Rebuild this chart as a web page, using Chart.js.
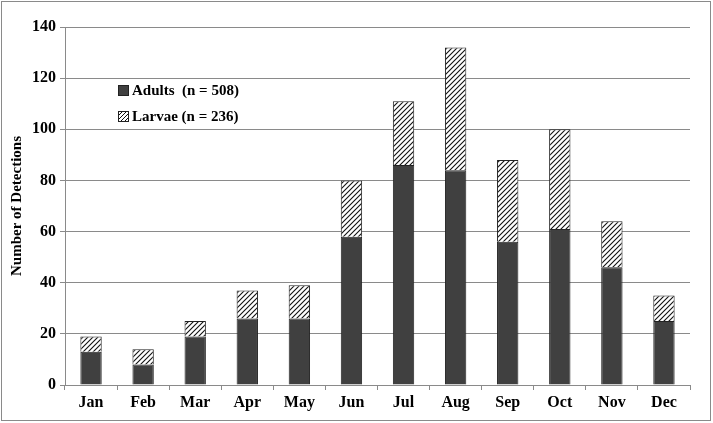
<!DOCTYPE html>
<html>
<head>
<meta charset="utf-8">
<script src="https://cdn.jsdelivr.net/npm/chart.js@4"></script>
<style>
  body { margin: 0; background: #fff; }
  #wrap { position: relative; width: 713px; height: 423px; }
  #legend { position: absolute; left: 118px; top: 77px; font: bold 15px "Liberation Serif", "Times New Roman", serif; color: #000; }
  .legend_row { height: 26px; display: flex; align-items: center; white-space: pre; }
  .legend_box { width: 9px; height: 9px; border: 1px solid #222; margin-right: 3px; }
</style>
</head>
<body>
<div id="wrap">
  <canvas id="myChart" width="713" height="423"></canvas>
  <div id="legend">
    <div class="legend_row"><span class="legend_box" id="boxAdults"></span>Adults  (n = 508)</div>
    <div class="legend_row"><span class="legend_box" id="boxLarvae"></span>Larvae (n = 236)</div>
  </div>
</div>
<script>
// chart data
const months = ['Jan', 'Feb', 'Mar', 'Apr', 'May', 'Jun', 'Jul', 'Aug', 'Sep', 'Oct', 'Nov', 'Dec'];
const adults = [13, 8, 19, 26, 26, 58, 86, 84, 56, 61, 46, 25];
const larvae = [6, 6, 6, 11, 13, 22, 25, 48, 32, 39, 18, 10];

// hatch pattern for larvae
function makeHatch() {
    const size = 5;
    const c = document.createElement('canvas');
    c.width = size;
    c.height = size;
    const g = c.getContext('2d');
    g.fillStyle = '#fff';
    g.fillRect(0, 0, size, size);
    g.strokeStyle = '#111';
    g.lineWidth = 1.1;
    g.beginPath();
    g.moveTo(-1, size + 1);
    g.lineTo(size + 1, -1);
    g.moveTo(-1, 1);
    g.lineTo(1, -1);
    g.moveTo(size - 1, size + 1);
    g.lineTo(size + 1, size - 1);
    g.stroke();
    return c;
}

const ctx = document.getElementById('myChart').getContext('2d');
const hatch = ctx.createPattern(makeHatch(), 'repeat');
document.getElementById('boxAdults').style.background = '#404040';
document.getElementById('boxLarvae').style.background = 'repeating-linear-gradient(-45deg, #fff 0 1.5px, #111 1.5px 2.8px)';

const serif = '"Liberation Serif", "Times New Roman", serif';

const frame = {
    id: 'frame',
    beforeDraw(chart) {
        const g = chart.ctx;
        g.save();
        g.fillStyle = '#fff';
        g.fillRect(0, 0, chart.width, chart.height);
        g.strokeStyle = '#8a8a8a';
        g.lineWidth = 1;
        g.strokeRect(1.5, 1.5, chart.width - 4, chart.height - 4);
        g.restore();
    }
};

let chart = new Chart(ctx, {
    type: 'bar',
    data: {
        labels: months,
        datasets: [
            {
                label: 'Adults  (n = 508)',
                data: adults,
                backgroundColor: '#404040',
                borderColor: '#222',
                borderWidth: 1
            },
            {
                label: 'Larvae (n = 236)',
                data: larvae,
                backgroundColor: hatch,
                borderColor: '#222',
                borderWidth: 1
            }
        ]
    },
    options: {
        responsive: false,
        animation: false,
        layout: { padding: { left: 2, right: 23, top: 27, bottom: 0 } },
        plugins: {
            legend: { display: false },
            tooltip: { enabled: false }
        },
        datasets: {
            bar: { barPercentage: 0.41, categoryPercentage: 1 }
        },
        scales: {
            x: {
                stacked: true,
                afterFit(scale) { scale.height = 38; },
                grid: {
                    offset: true,
                    drawOnChartArea: false,
                    color: '#8a8a8a',
                    tickLength: 5
                },
                border: { color: '#8a8a8a' },
                ticks: {
                    color: '#000',
                    font: { family: serif, size: 16, weight: 'bold' },
                    padding: 3
                }
            },
            y: {
                stacked: true,
                min: 0,
                max: 140,
                afterFit(scale) { scale.width = 63; },
                grid: {
                    color: '#8a8a8a',
                    tickLength: 5
                },
                border: { color: '#8a8a8a' },
                ticks: {
                    stepSize: 20,
                    color: '#000',
                    font: { family: serif, size: 16, weight: 'bold' },
                    padding: 4
                },
                title: {
                    display: true,
                    text: 'Number of Detections',
                    color: '#000',
                    font: { family: serif, size: 15, weight: 'bold' },
                    padding: { top: 6, bottom: 0 }
                }
            }
        }
    },
    plugins: [frame]
});
</script>
</body>
</html>
